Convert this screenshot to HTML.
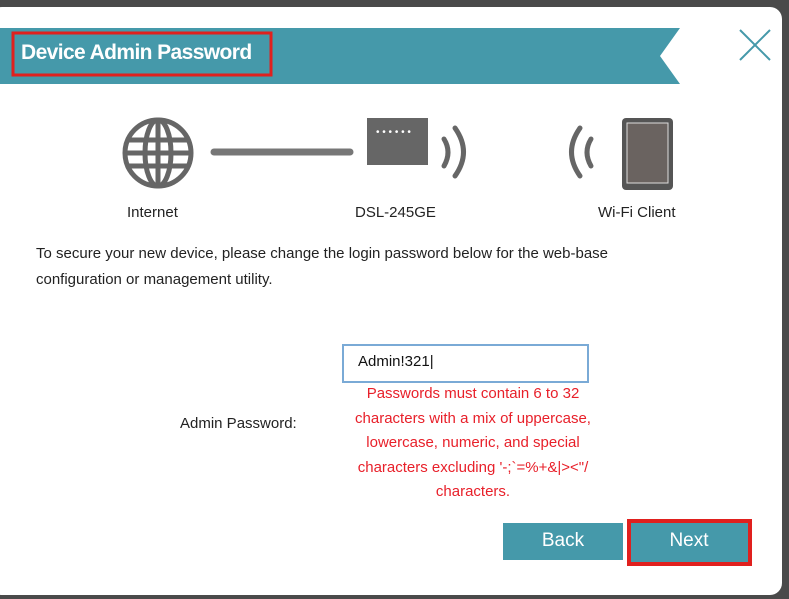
<!DOCTYPE html>
<html><head><meta charset="utf-8"><style>
body{margin:0;width:789px;height:599px;background:#4a4a4a;overflow:hidden;position:relative;font-family:"Liberation Sans",sans-serif}
.panel{position:absolute;left:-10px;top:7px;width:792px;height:588px;background:#fff;border-radius:12px}
.t{position:absolute;white-space:nowrap}
</style></head><body>
<div class="panel"></div>
<svg style="position:absolute;left:0;top:0" width="789" height="599">
<polygon points="0,28 680,28 660,56 680,84 0,84" fill="#4599aa"/>
<rect x="13" y="33" width="258" height="42" fill="none" stroke="#e0201e" stroke-width="3"/>
<line x1="740" y1="30" x2="770" y2="60" stroke="#4599aa" stroke-width="2"/>
<line x1="770" y1="30" x2="740" y2="60" stroke="#4599aa" stroke-width="2"/>
<g fill="none" stroke="#666" stroke-width="5">
<circle cx="158" cy="153" r="33"/>
<ellipse cx="158" cy="153" rx="13" ry="33"/>
<line x1="158" y1="120" x2="158" y2="186"/>
<line x1="127" y1="140" x2="189" y2="140"/>
<line x1="125" y1="153" x2="191" y2="153"/>
<line x1="127" y1="166" x2="189" y2="166"/>
</g>
<line x1="214" y1="152" x2="350" y2="152" stroke="#777" stroke-width="7" stroke-linecap="round"/>
<rect x="367" y="118" width="61" height="47" fill="#666"/>
<text x="376" y="135" fill="#fff" font-size="10">• • • • • •</text>
<g fill="none" stroke="#666" stroke-width="5" stroke-linecap="round">
<path d="M444 139 Q452 152 444 166"/>
<path d="M455 128 Q472 152 455 176"/>
<path d="M591 139 Q583 152 591 166"/>
<path d="M580 128 Q563 152 580 176"/>
</g>
<rect x="622" y="118" width="51" height="72" rx="4" fill="#555"/>
<rect x="627" y="123" width="41" height="60" fill="#6a6360" stroke="#ddd" stroke-width="1"/>
<rect x="343" y="345" width="245" height="37" fill="#fff" stroke="#7aaad6" stroke-width="2"/>
<rect x="503" y="523" width="120" height="37" fill="#4599aa"/>
<rect x="630" y="522" width="118" height="41" fill="#4599aa"/>
<rect x="629" y="521" width="121" height="43" fill="none" stroke="#e0201e" stroke-width="4"/>
</svg>
<div class="t" style="left:21px;top:41px;font-size:21px;font-weight:bold;color:#fff;letter-spacing:-0.6px">Device Admin Password</div>
<div class="t" style="left:127px;top:204px;font-size:15px;color:#222">Internet</div>
<div class="t" style="left:355px;top:204px;font-size:15px;color:#222">DSL-245GE</div>
<div class="t" style="left:598px;top:204px;font-size:15px;color:#222">Wi-Fi Client</div>
<div class="t" style="left:36px;top:241px;font-size:15px;color:#222;line-height:26px">To secure your new device, please change the login password below for the web-base<br>configuration or management utility.</div>
<div class="t" style="left:358px;top:353px;font-size:15px;color:#111">Admin!321|</div>
<div class="t" style="left:180px;top:415px;font-size:15px;color:#222">Admin Password:</div>
<div class="t" style="left:320px;top:382px;width:306px;text-align:center;font-size:15px;color:#e8202a;line-height:24.5px">Passwords must contain 6 to 32<br>characters with a mix of uppercase,<br>lowercase, numeric, and special<br>characters excluding '-;`=%+&amp;|&gt;&lt;"/<br>characters.</div>
<div class="t" style="left:503px;top:530px;width:120px;text-align:center;font-size:19px;color:#fff">Back</div>
<div class="t" style="left:630px;top:530px;width:118px;text-align:center;font-size:19px;color:#fff">Next</div>
</body></html>
